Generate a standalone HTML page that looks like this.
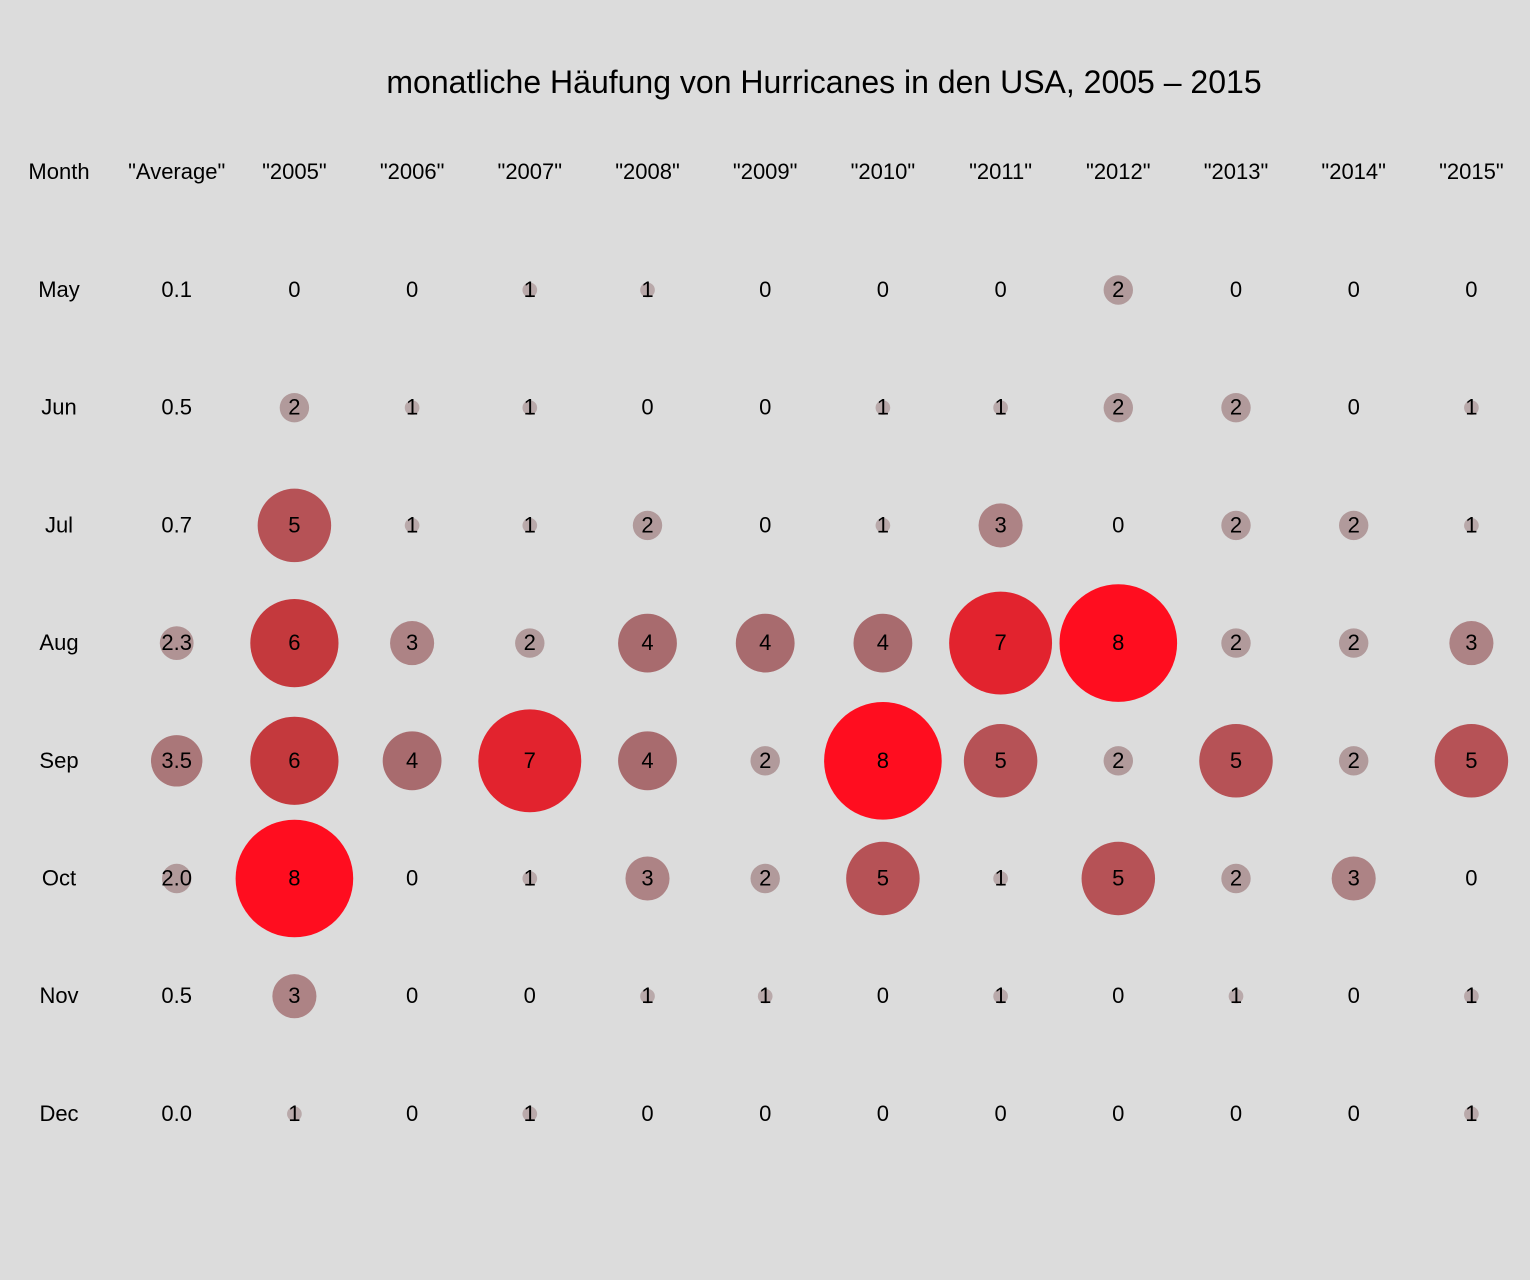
<!DOCTYPE html>
<html><head><meta charset="utf-8"><style>
html,body{margin:0;padding:0;background:#dcdcdc;}
svg{display:block;}
text{font-family:"Liberation Sans",Arial,sans-serif;fill:#000;}
</style></head><body>
<svg id="chart" width="1530" height="1280">
<rect x="0" y="0" width="1530" height="1280" fill="#dcdcdc"/>
<text x="824" y="93" font-size="32" text-anchor="middle">monatliche Häufung von Hurricanes in den USA, 2005 – 2015</text>
<g id="g"></g>
</svg>
<script>
const years = ["2005","2006","2007","2008","2009","2010","2011","2012","2013","2014","2015"];
const months = ["May","Jun","Jul","Aug","Sep","Oct","Nov","Dec"];
const averages = [0.1,0.5,0.7,2.3,3.5,2.0,0.5,0.0];
const counts = [
 [0,0,1,1,0,0,0,2,0,0,0],
 [2,1,1,0,0,1,1,2,2,0,1],
 [5,1,1,2,0,1,3,0,2,2,1],
 [6,3,2,4,4,4,7,8,2,2,3],
 [6,4,7,4,2,8,5,2,5,2,5],
 [8,0,1,3,2,5,1,5,2,3,0],
 [3,0,0,1,1,0,1,0,1,0,1],
 [1,0,1,0,0,0,0,0,0,0,1]
];
const NS="http://www.w3.org/2000/svg";
const g=document.getElementById('g');
const colX=i=>59+i*117.7;
const rowY=j=>290+j*117.7;
const rScale=v=>v*7.35;
const stops=[[0,[192,184,184]],[2,[177,154,155]],[4,[168,107,110]],[6,[196,57,61]],[8,[255,13,31]]];
function color(v){
 for(let i=0;i<stops.length-1;i++){
  const a=stops[i],b=stops[i+1];
  if(v<=b[0]){const t=(v-a[0])/(b[0]-a[0]);
   return 'rgb('+a[1].map((c,k)=>Math.round(c+(b[1][k]-c)*t)).join(',')+')';}
 }
 return 'rgb(255,13,31)';
}
function txt(x,y,s,name){
 const t=document.createElementNS(NS,'text');
 t.setAttribute('x',x);t.setAttribute('y',y+7);t.setAttribute('font-size','22');t.setAttribute('text-anchor','middle');
 t.textContent=s;
 
 
 g.appendChild(t);
}
function bubble(x,y,v,name){
 if(v<=0)return;
 const c=document.createElementNS(NS,'circle');
 c.setAttribute('cx',x);c.setAttribute('cy',y);c.setAttribute('r',Math.max(rScale(v),v>=1?5:0));
 c.setAttribute('fill',color(v));
 
 
 g.appendChild(c);
}
txt(colX(0),172,'Month','header-month');
txt(colX(1),172,'"Average"','header-average');
years.forEach((y,i)=>txt(colX(i+2),172,'"'+y+'"','header-'+y));
months.forEach((m,j)=>{
 const y=rowY(j);
 txt(colX(0),y,m,'row-label-'+m.toLowerCase());
 if(averages[j]>=1) bubble(colX(1),y,averages[j],'bubble-average-'+m.toLowerCase());
 txt(colX(1),y,averages[j].toFixed(1),'value-average-'+m.toLowerCase());
 counts[j].forEach((v,i)=>{
  bubble(colX(i+2),y,v,'bubble-'+years[i]+'-'+m.toLowerCase());
  txt(colX(i+2),y,String(v),'value-'+years[i]+'-'+m.toLowerCase());
 });
});
</script>
</body></html>
